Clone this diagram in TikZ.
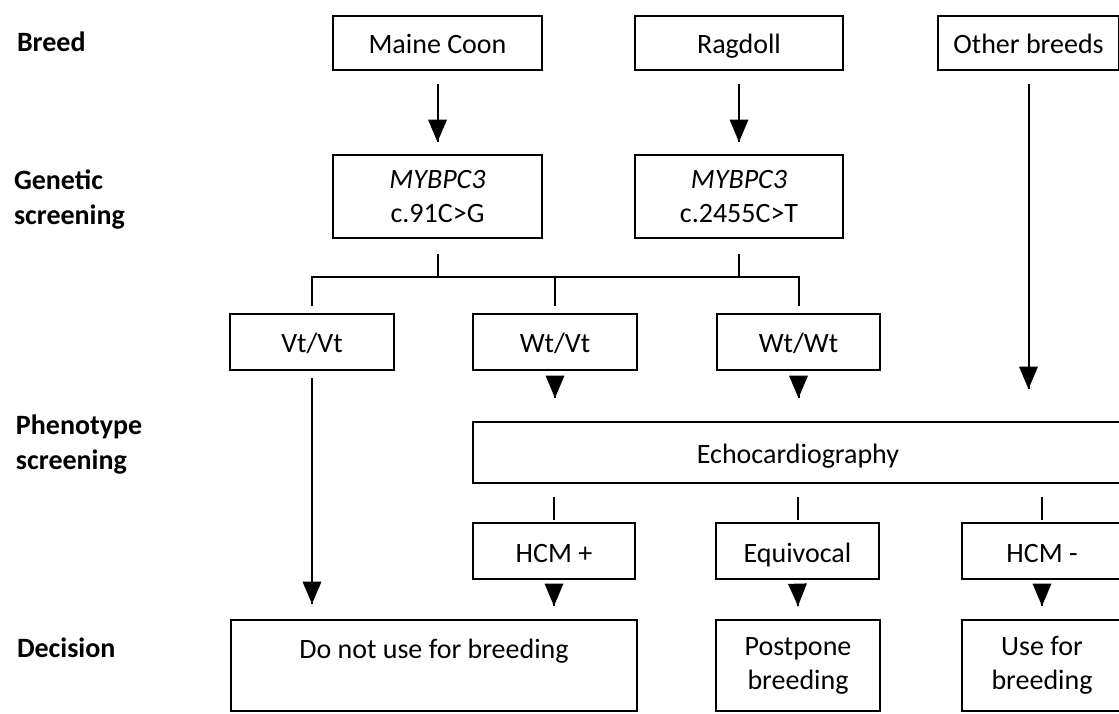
\documentclass[tikz,border=0pt]{standalone}
\usepackage{fontspec}
\setmainfont{Carlito}
\usetikzlibrary{arrows}
\usetikzlibrary{decorations.markings}
\tikzset{->-/.style = {decoration={markings,
                                   mark=at position #1 with {\arrow[scale=1.75]{triangle 45}}},
                       postaction={decorate}}}
\tikzset{tallbox/.style = {draw, minimum height=56pt, inner sep=0pt, align=center,
                           font=\fontsize{28}{34}\selectfont}}
\tikzset{box/.style = {tallbox, text height=24pt, text depth=2pt}}
\tikzset{stage/.style = {anchor=west, align=left, inner sep=0pt,
                         font=\fontsize{28}{35}\selectfont\bfseries}}

\begin{document}
\begin{tikzpicture}[x=1pt, y=1pt, line width=2pt]
      \clip (0, 0) rectangle (1119, 713);

      \node [stage] (breed) at (16, 671) {Breed};
      \node [stage] (genetic) at (13, 513) {Genetic\\screening};
      \node [stage] (pheno) at (15, 268) {Phenotype\\screening};
      \node [stage] (decision) at (16, 65) {Decision};

      \node [box, minimum width=209pt, minimum height=54pt] (maine) at (437.5, 670) {Maine Coon};
      \node [box, minimum width=208pt, minimum height=54pt] (ragdoll) at (739, 670) {Ragdoll};
      \node [box, minimum width=181pt, minimum height=54pt] (other) at (1028.5, 670) {Other breeds};

      \node [tallbox, minimum width=209pt, minimum height=83pt] (testmc) at (437.5, 516.5) {\textit{MYBPC3}\\c.91C>G};
      \node [tallbox, minimum width=208pt, minimum height=83pt] (testrd) at (739, 516.5) {\textit{MYBPC3}\\c.2455C>T};

      \node [box, minimum width=164pt] (vtvt) at (312, 371) {Vt/Vt};
      \node [box, minimum width=164pt] (wtvt) at (555, 371) {Wt/Vt};
      \node [box, minimum width=163pt] (wtwt) at (798.5, 371) {Wt/Wt};

      \node [box, minimum width=650pt, minimum height=61pt] (echo) at (798, 260.5) {Echocardiography};

      \node [box, minimum width=162pt] (hcmpos) at (554, 162) {HCM +};
      \node [box, minimum width=163pt] (equiv) at (797.5, 162) {Equivocal};
      \node [box, minimum width=160pt] (hcmneg) at (1042, 162) {HCM -};

      \node [tallbox, minimum width=406pt, minimum height=91pt] (nouse) at (434, 47.5) {Do not use for breeding\\~};
      \node [tallbox, minimum width=164pt, minimum height=91pt] (postpone) at (798, 47.5) {Postpone\\breeding};
      \node [tallbox, minimum width=160pt, minimum height=91pt] (use) at (1042, 47.5) {Use for\\breeding};

      \coordinate (bus) at (0, 436);
      \coordinate (otherend) at (other.south |- echo.north);
      \coordinate (vtend) at (vtvt.south |- nouse.north);

      \draw [->-=1] ([yshift=-13pt]maine.south) -- ([yshift=12pt]testmc.north);
      \draw [->-=1] ([yshift=-13pt]ragdoll.south) -- ([yshift=12pt]testrd.north);
      \draw [->-=1] ([yshift=-13pt]other.south) -- ([yshift=32pt]otherend);

      \draw ([yshift=-15pt]testmc.south) -- (testmc.south |- bus);
      \draw ([yshift=-15pt]testrd.south) -- (testrd.south |- bus);
      \draw ([yshift=7pt]vtvt.north) |- (bus -| wtwt.north) -- ([yshift=7pt]wtwt.north);
      \draw (wtvt.north |- bus) -- ([yshift=7pt]wtvt.north);

      \draw [->-=1] ([yshift=-7pt]vtvt.south) -- ([yshift=15pt]vtend);
      \foreach \g in {wtvt, wtwt}
        \draw [->-=1] ([yshift=-5pt]\g.south) -- ([yshift=23pt]\g.south |- echo.north);

      \foreach \r in {hcmpos, equiv, hcmneg}
        \draw ([yshift=-13pt]\r.north |- echo.south) -- ([yshift=2pt]\r.north);

      \draw [->-=1] ([yshift=-6pt]hcmpos.south) -- ([yshift=13pt]hcmpos.south |- nouse.north);
      \draw [->-=1] ([yshift=-6pt]equiv.south) -- ([yshift=13pt]postpone.north);
      \draw [->-=1] ([yshift=-6pt]hcmneg.south) -- ([yshift=13pt]use.north);
    \end{tikzpicture}
\end{document}
